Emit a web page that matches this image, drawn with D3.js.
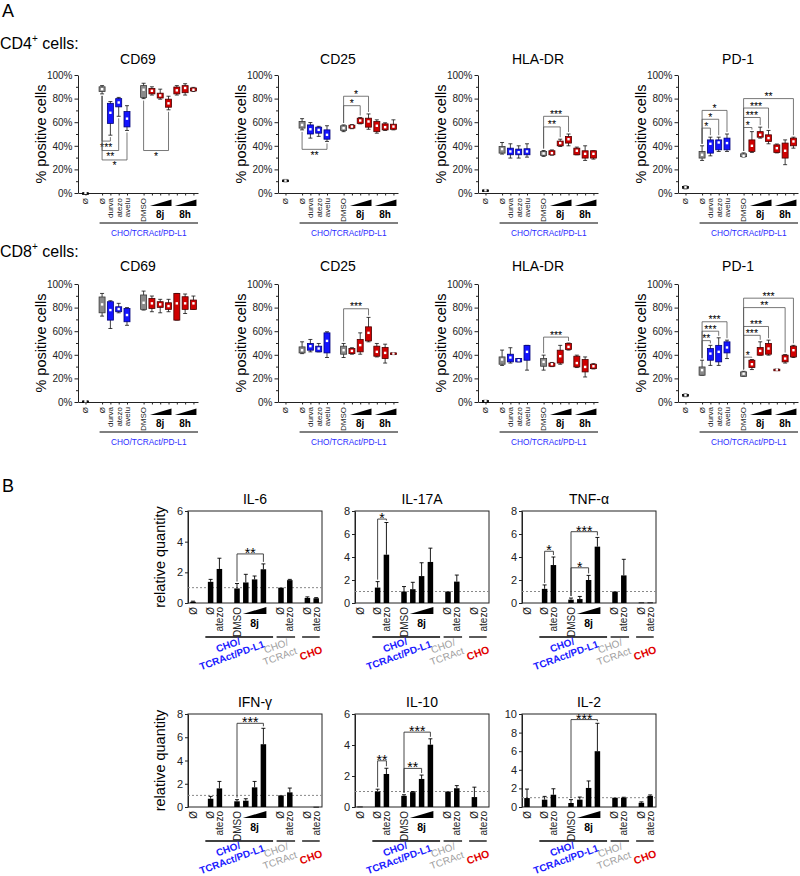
<!DOCTYPE html>
<html><head><meta charset="utf-8">
<script src="https://cdn.jsdelivr.net/npm/d3@7"></script>
<style>body{margin:0;background:#fff}svg{display:block}text{font-family:"Liberation Sans",Arial,Helvetica,sans-serif}</style>
</head><body><svg id="c" width="800" height="876"></svg>
<script>
// ---------------- DATA: panel A (box plots, % positive cells) ----------------
const boxCats = ["Ø0","Ø","durva","atezo","avelu","DMSO","8j-1","8j-2","8j-3","8h-1","8h-2","8h-3"];
const boxTickLabels = ["Ø","Ø","durva","atezo","avelu","DMSO","","","","","",""];
const boxPos = [0,2,3,4,5,7,8,9,10,11,12,13];
const boxGroup = ["none","ctrl","ab","ab","ab","ctrl","cmp","cmp","cmp","cmp","cmp","cmp"];
const yTicksA = [0,20,40,60,80,100];
const yMinorA = [10,30,50,70,90];
// each entry: [min, q1, mean, q3, max]
const cd4_CD69 = [[0,0,0.1,0.2,0.3],[84,86,88,90,91],[49,59,68,76,77.5],[65,73,76.7,80,81],[53,56,63,69,74],[80,81,87.5,91,93],[83,84,86.6,88.6,90],[79.5,80.5,82.7,84.6,88],[70.5,72.7,76,79.5,82],[83,84,87,89.8,91],[83,85,89,91,92.6],[86,86.5,87.5,89,89.5]];
const cd4_CD25 = [[9.5,10,10.5,11,11.5],[53.5,55,57.7,60.6,63],[46.5,50,54,57.7,59.7],[48,50.7,53.5,55.8,56.5],[43.7,45.6,49.3,53.5,57],[52,53,55,57,57.7],[54.5,55,56.3,57.5,58],[58.6,59,61.4,63.4,64],[54,55.8,60.6,63.4,67],[50.7,52,57,60.6,62],[53,53.5,55.8,58.6,59.5],[53.5,54,56.3,58.3,62]];
const cd4_HLADR = [[1.5,2,2.3,2.6,3],[33,33.8,37.2,39.4,42.8],[29.6,32.4,35.2,38,41.7],[29.6,32.4,34.6,37.2,40],[30.4,32.4,35.2,37.5,41.7],[31,31.8,33.5,35.2,36],[32,32.4,33.8,35.8,36.5],[39.4,40,42.3,44,45.6],[40,42.3,45.6,47.9,50],[32.4,32.4,35.8,38,38.9],[27.6,29.6,33.2,35.8,40],[28.7,29.6,33.2,35.8,35.8]];
const cd4_PD1 = [[3.5,4,4.8,5.5,6],[27.6,29.6,32.4,35.2,40],[31.5,33.8,41.7,45,47.3],[35.2,36.6,42.8,45,47.3],[35.2,36.6,42.3,46.5,50],[30.5,30.8,31.5,33.2,34],[34.4,35.2,40,45,52],[46.5,47.3,49.3,52,55.8],[41.7,43.7,46.5,49.3,53],[34,34.4,38,40.8,41.5],[24,29.6,35.8,42.3,45],[38,40,43.7,46.5,47.3]];
const cd8_CD69 = [[0.3,0.5,0.7,0.9,1.1],[72.8,75.6,82.7,89,92],[62.3,69.4,77.9,85,85.8],[75.6,76.5,78.8,80.7,83.6],[65,68,73.7,79.3,80],[77.9,78.5,84.1,90.7,94],[76.5,79.3,83.6,87.8,89.8],[75.6,80.2,82.7,85,87],[76.5,78.5,81.3,84.1,87],[69.4,69.4,83.6,92,92],[75,78.5,83.6,89.2,91.5],[78.5,78.5,83.6,86.4,89.8]];
const cd8_CD25 = [null,[41,41.6,43.9,46.7,51],[42.5,43.9,47.3,49.6,53],[42.5,42.5,45.3,47.3,49.6],[37.7,41.6,51.8,58.6,59.5],[37.7,40.5,43.9,47.3,49.6],[40.5,41,43.3,45.3,46],[40.5,42.5,48.2,53,58.6],[51,51.8,58.6,63.7,71.7],[38.2,38.8,42.5,47.3,49.6],[33,36.8,41.6,46.2,49],[40.2,40.5,41,41.6,41.8]];
const cd8_HLADR = [[0.5,0.8,1,1.2,1.5],[31,32,36,38.2,44],[33,34,37.7,40.5,46],[34,34,35.4,36.8,36.8],[27,35.4,42.5,48,48],[27,30.3,34,36.8,39.7],[30,30.3,32,33,33.5],[32,33,38.8,43.9,48],[44,44.5,46.7,49.6,50],[29.2,29.7,33,38.8,39.7],[21.2,25.5,29.7,36,38.2],[28,28.3,30.3,32,32.5]];
const cd8_PD1 = [[4.5,5,5.7,6.3,6.8],[22.7,22.7,27,29.7,35.4],[31,35.4,41,45.3,48],[31,34,42.5,48,54.4],[36.8,41.6,46.2,51,52.4],[21.8,21.8,24,25.5,26],[27.5,29.2,32,35.4,36],[39.7,39.7,43.3,46.2,51],[39.7,40.5,45.3,49.6,52.4],[27,27.2,27.5,27.8,28],[33,34,36.8,39.7,40.2],[37.7,38.2,43.9,47.3,48]];
// significance: [fromIndex, toIndex, level(%), label, direction(1 up / -1 down)]
const sig_cd4_CD69 = [[1,2,44,"***",-1],[1,3,36,"**",-1],[1,4,28,"*",-1],[5,8,36,"*",-1]];
const sig_cd4_CD25 = [[1,4,37,"**",-1],[5,7,74,"*",1],[5,8,82,"*",1]];
const sig_cd4_HLADR = [[5,7,56,"**",1],[5,8,65,"***",1]];
const sig_cd4_PD1 = [[1,2,55,"*",1],[1,3,62.5,"*",1],[1,4,70,"*",1],[5,6,55.5,"*",1],[5,7,64,"***",1],[5,8,72,"***",1],[5,11,80,"**",1]];
const sig_cd8_CD69 = [];
const sig_cd8_CD25 = [[5,8,79,"***",1]];
const sig_cd8_HLADR = [[5,8,55,"***",1]];
const sig_cd8_PD1 = [[1,2,52,"**",1],[1,3,60,"***",1],[1,4,68,"***",1],[5,6,38,"*",1],[5,7,56.5,"***",1],[5,8,64,"***",1],[5,10,80,"**",1],[5,11,88,"***",1]];

// ---------------- DATA: panel B (bar charts, relative quantity) ----------------
const barTickLabels = ["Ø","Ø","atezo","DMSO","","","","Ø","atezo","Ø","atezo"];
const barPos = [0,2,3,5,6,7,8,10,11,13,14];
const yTicks6 = [0,2,4,6], yTicks8 = [0,2,4,6,8], yTicks10 = [0,2,4,6,8,10];
const il6_mean  = [0.08,1.38,2.22,0.95,1.34,1.54,2.2,1.0,1.49,0.33,0.31];
const il6_err   = [0.12,1.54,2.92,1.27,1.87,1.76,2.55,1.0,1.54,0.40,0.35];
const il17_mean = [0,1.34,4.2,1.0,1.2,2.34,3.57,1.0,1.86,0,0];
const il17_err  = [0,1.86,7.0,1.43,1.8,3.5,4.77,1.0,2.43,0,0];
const tnf_mean  = [0,1.23,3.3,0.29,0.34,2.0,4.9,1.0,2.4,0.05,0.05];
const tnf_err   = [0,1.57,4.0,0.43,0.57,2.4,5.7,1.0,3.8,0.05,0.05];
const ifn_mean  = [0,0.71,1.6,0.49,0.54,1.69,5.4,1.0,1.26,0,0.02];
const ifn_err   = [0,0.91,2.2,0.63,0.71,2.2,6.77,1.0,1.63,0,0.02];
const il10_mean = [0.03,1.0,2.13,0.72,0.96,1.81,4.02,1.0,1.21,0.64,0];
const il10_err  = [0.03,1.15,2.5,0.79,1.0,2.06,4.4,1.0,1.38,1.28,0];
const il2_mean  = [0.96,0.79,1.32,0.43,0.79,2.05,6.0,1.0,1.0,0.45,1.2];
const il2_err   = [1.93,1.14,1.96,0.79,1.07,2.8,9.0,1.0,1.05,0.55,1.3];
const sig_il6  = [[3,6,3.2,"**"]];
const sig_il17 = [[1,2,7.3,"*"]];
const sig_tnf  = [[1,2,4.5,"*"],[3,5,3.06,"*"],[3,6,6.2,"***"]];
const sig_ifn  = [[3,6,7.2,"***"]];
const sig_il10 = [[1,2,2.98,"**"],[3,5,2.49,"**"],[3,6,4.83,"***"]];
const sig_il2  = [[3,6,9.4,"***"]];

// ---------------- DRAWING ----------------
const svg = d3.select("#c");
const colors = {none:{f:"#111",s:"#000"},ctrl:{f:"#8a8a8a",s:"#3a3a3a"},ab:{f:"#1414ff",s:"#00007a"},cmp:{f:"#d00000",s:"#4a0000"}};
const colXA = [78,278,478,678];
const rowA = [{top:75,bottom:193,title:64},{top:284,bottom:402,title:271}];
const plotWA = 120;

svg.append("text").attr("x",2).attr("y",17).attr("font-size",18).text("A");
svg.append("text").attr("x",2).attr("y",492).attr("font-size",18).text("B");
function rowLabel(txt,yy){
  const t=svg.append("text").attr("x",0).attr("y",yy).attr("font-size",16);
  t.append("tspan").text(txt);
  t.append("tspan").attr("dy",-7).attr("font-size",10).text("+");
  t.append("tspan").attr("dy",7).text(" cells:");
}
rowLabel("CD4",49); rowLabel("CD8",257);

function styleAxis(sel,fs){
  sel.attr("font-family",null).attr("font-size",null);
  sel.selectAll("text").attr("font-size",fs).attr("fill","#222");
  sel.selectAll("line").attr("stroke","#222");
  sel.select(".domain").attr("stroke","#222");
}

function drawBoxPanel(p){
  const ax=colXA[p.col], R=rowA[p.row], yT=R.top, yB=R.bottom;
  const x=d3.scaleLinear().domain([-0.9,13.55]).range([ax,ax+plotWA]);
  const y=d3.scaleLinear().domain([0,100]).range([yB,yT]);
  const g=svg.append("g");
  g.append("text").attr("x",ax+plotWA/2).attr("y",R.title).attr("text-anchor","middle").attr("font-size",14).text(p.title);
  g.append("text").attr("transform",`translate(${ax-37},${(yT+yB)/2}) rotate(-90)`).attr("text-anchor","middle").attr("dy","0.35em").attr("font-size",14.5).text("% positive cells");
  const ym=g.append("g").attr("transform",`translate(${ax},0)`).call(d3.axisLeft(y).tickValues(yMinorA).tickSize(2).tickFormat(""));
  ym.select(".domain").remove(); styleAxis(ym,10);
  const ya=g.append("g").attr("transform",`translate(${ax},0)`).call(d3.axisLeft(y).tickValues(yTicksA).tickFormat(d=>d+"%").tickSize(3.5).tickSizeOuter(0).tickPadding(2));
  styleAxis(ya,10);
  const xa=g.append("g").attr("transform",`translate(0,${yB})`).call(d3.axisBottom(x).tickValues(boxPos).tickSize(2.5).tickSizeOuter(0).tickFormat(""));
  styleAxis(xa,8);
  boxTickLabels.forEach((t,i)=>{ if(!t) return;
    g.append("text").attr("transform",`translate(${x(boxPos[i])},${yB+5}) rotate(-90)`).attr("text-anchor","end").attr("dy","0.35em").attr("font-size",8).attr("fill","#222").text(t);
  });
  [[6,8,"8j"],[9,11,"8h"]].forEach(([a,b,l])=>{
    const x0=x(boxPos[a])-2, x1=x(boxPos[b])+3;
    g.append("path").attr("d",`M${x0},${yB+13}L${x1},${yB+13}L${x1},${yB+6.5}Z`).attr("fill","#000");
    g.append("text").attr("x",x(boxPos[a+1])).attr("y",yB+25).attr("text-anchor","middle").attr("font-size",10).attr("font-weight","bold").text(l);
  });
  g.append("line").attr("x1",x(1.7)).attr("x2",ax+plotWA).attr("y1",yB+30).attr("y2",yB+30).attr("stroke","#000").attr("stroke-width",1);
  g.append("text").attr("x",(x(1.7)+ax+plotWA)/2).attr("y",yB+43).attr("text-anchor","middle").attr("font-size",8.3).attr("fill","#2b2bff").text("CHO/TCRAct/PD-L1");
  p.data.forEach((d,i)=>{ if(!d) return;
    const cx=x(boxPos[i]), c=colors[boxGroup[i]];
    g.append("line").attr("x1",cx).attr("x2",cx).attr("y1",y(d[0])).attr("y2",y(d[4])).attr("stroke","#111").attr("stroke-width",0.8);
    [d[0],d[4]].forEach(v=>g.append("line").attr("x1",cx-2).attr("x2",cx+2).attr("y1",y(v)).attr("y2",y(v)).attr("stroke","#111").attr("stroke-width",0.8));
    const h=Math.max(y(d[1])-y(d[3]),1.6);
    g.append("rect").attr("x",cx-3).attr("y",y(d[3])).attr("width",6).attr("height",h).attr("fill",c.f).attr("stroke",c.s).attr("stroke-width",0.8);
    g.append("rect").attr("x",cx-1.2).attr("y",y(d[2])-1.2).attr("width",2.4).attr("height",2.4).attr("fill","#fff");
  });
  p.sig.forEach(([a,b,lv,lab,dir])=>{
    const xa_=x(boxPos[a]), xb_=x(boxPos[b]), yl=y(lv);
    const ya0 = dir>0 ? y(p.data[a][4])-2 : y(p.data[a][0])+2;
    const yb0 = dir>0 ? y(p.data[b][4])-2 : y(p.data[b][0])+2;
    g.append("path").attr("d",`M${xa_},${ya0}V${yl}H${xb_}V${yb0}`).attr("fill","none").attr("stroke","#555").attr("stroke-width",0.8);
    g.append("text").attr("x",(xa_+xb_)/2).attr("y",dir>0?yl+1.5:yl+9.5).attr("text-anchor","middle").attr("font-size",10.5).attr("fill","#000").text(lab);
  });
}

const panelsA = [
  {row:0,col:0,title:"CD69",data:cd4_CD69,sig:sig_cd4_CD69},
  {row:0,col:1,title:"CD25",data:cd4_CD25,sig:sig_cd4_CD25},
  {row:0,col:2,title:"HLA-DR",data:cd4_HLADR,sig:sig_cd4_HLADR},
  {row:0,col:3,title:"PD-1",data:cd4_PD1,sig:sig_cd4_PD1},
  {row:1,col:0,title:"CD69",data:cd8_CD69,sig:sig_cd8_CD69},
  {row:1,col:1,title:"CD25",data:cd8_CD25,sig:sig_cd8_CD25},
  {row:1,col:2,title:"HLA-DR",data:cd8_HLADR,sig:sig_cd8_HLADR},
  {row:1,col:3,title:"PD-1",data:cd8_PD1,sig:sig_cd8_PD1}
];
panelsA.forEach(drawBoxPanel);

// ---- panel B ----
const colXB = [188,355,522];
const rowB = [{top:511,bottom:603},{top:714,bottom:807}];
const plotWB = 134;
function drawBarPanel(p){
  const ax=colXB[p.col], R=rowB[p.row], yT=R.top, yB=R.bottom;
  const x=d3.scaleLinear().domain([-0.57,14.66]).range([ax,ax+plotWB]);
  const y=d3.scaleLinear().domain([0,p.max]).range([yB,yT]);
  const g=svg.append("g");
  g.append("text").attr("x",ax+plotWB/2).attr("y",yT-7).attr("text-anchor","middle").attr("font-size",14).text(p.title);
  if(p.col===0){
    g.append("text").attr("transform",`translate(${ax-28},${(yT+yB)/2}) rotate(-90)`).attr("text-anchor","middle").attr("dy","0.35em").attr("font-size",14.5).text("relative quantity");
  }
  g.append("rect").attr("x",ax).attr("y",yT).attr("width",plotWB).attr("height",yB-yT).attr("fill","none").attr("stroke","#222").attr("stroke-width",1);
  const ya=g.append("g").attr("transform",`translate(${ax},0)`).call(d3.axisLeft(y).tickValues(p.ticks).tickFormat(d3.format("d")).tickSize(3).tickSizeOuter(0).tickPadding(2));
  styleAxis(ya,11);
  g.append("line").attr("x1",ax).attr("x2",ax+plotWB).attr("y1",y(1)).attr("y2",y(1)).attr("stroke","#888").attr("stroke-dasharray","2,2").attr("stroke-width",1);
  p.mean.forEach((m,i)=>{
    const cx=x(barPos[i]);
    if(m>0) g.append("rect").attr("x",cx-2.75).attr("y",y(m)).attr("width",5.5).attr("height",Math.max(yB-y(m),0.8)).attr("fill","#000");
    const e=p.err[i];
    if(e>m+0.02){
      g.append("line").attr("x1",cx).attr("x2",cx).attr("y1",y(m)).attr("y2",y(e)).attr("stroke","#000").attr("stroke-width",0.9);
      g.append("line").attr("x1",cx-2).attr("x2",cx+2).attr("y1",y(e)).attr("y2",y(e)).attr("stroke","#000").attr("stroke-width",0.9);
    }
  });
  barTickLabels.forEach((t,i)=>{ if(!t) return;
    g.append("text").attr("transform",`translate(${x(barPos[i])},${yB+4}) rotate(-90)`).attr("text-anchor","end").attr("dy","0.35em").attr("font-size",10).attr("fill","#222").text(t);
  });
  const w0=x(barPos[4])-3, w1=x(barPos[6])+3;
  g.append("path").attr("d",`M${w0},${yB+11}L${w1},${yB+11}L${w1},${yB+4}Z`).attr("fill","#000");
  g.append("text").attr("x",x(barPos[5])).attr("y",yB+24).attr("text-anchor","middle").attr("font-size",10.5).attr("font-weight","bold").text("8j");
  [[1.4,9.1],[9.5,11.6],[12.4,14.4]].forEach(([a,b])=>g.append("line").attr("x1",x(a)).attr("x2",x(b)).attr("y1",yB+34).attr("y2",yB+34).attr("stroke","#000").attr("stroke-width",1.3));
  const lb1=g.append("text").attr("transform",`translate(${ax+43},${yB+50}) rotate(-20)`).attr("text-anchor","middle").attr("font-size",10).attr("font-weight","bold").attr("fill","#1a1aff");
  lb1.append("tspan").attr("x",0).attr("y",-5).text("CHO/");
  lb1.append("tspan").attr("x",0).attr("y",6).text("TCRAct/PD-L1");
  const lb2=g.append("text").attr("transform",`translate(${ax+91},${yB+51}) rotate(-20)`).attr("text-anchor","middle").attr("font-size",10).attr("fill","#a0a0a0");
  lb2.append("tspan").attr("x",0).attr("y",-5).text("CHO/");
  lb2.append("tspan").attr("x",0).attr("y",6).text("TCRAct");
  g.append("text").attr("transform",`translate(${ax+123},${yB+50}) rotate(-20)`).attr("text-anchor","middle").attr("dy","0.35em").attr("font-size",10.5).attr("font-weight","bold").attr("fill","#e00000").text("CHO");
  p.sig.forEach(([a,b,lv,lab])=>{
    const xa_=x(barPos[a]), xb_=x(barPos[b]), yl=y(lv);
    const ya0=y(Math.max(p.err[a],p.mean[a]))-2, yb0=y(Math.max(p.err[b],p.mean[b]))-2;
    g.append("path").attr("d",`M${xa_},${ya0}V${yl}H${xb_}V${yb0}`).attr("fill","none").attr("stroke","#333").attr("stroke-width",0.9);
    g.append("text").attr("x",(xa_+xb_)/2).attr("y",yl+4).attr("text-anchor","middle").attr("font-size",14).attr("fill","#000").text(lab);
  });
}
const panelsB = [
  {row:0,col:0,title:"IL-6",max:6,ticks:yTicks6,mean:il6_mean,err:il6_err,sig:sig_il6},
  {row:0,col:1,title:"IL-17A",max:8,ticks:yTicks8,mean:il17_mean,err:il17_err,sig:sig_il17},
  {row:0,col:2,title:"TNF-α",max:8,ticks:yTicks8,mean:tnf_mean,err:tnf_err,sig:sig_tnf},
  {row:1,col:0,title:"IFN-γ",max:8,ticks:yTicks8,mean:ifn_mean,err:ifn_err,sig:sig_ifn},
  {row:1,col:1,title:"IL-10",max:6,ticks:yTicks6,mean:il10_mean,err:il10_err,sig:sig_il10},
  {row:1,col:2,title:"IL-2",max:10,ticks:yTicks10,mean:il2_mean,err:il2_err,sig:sig_il2}
];
panelsB.forEach(drawBarPanel);
</script></body></html>
